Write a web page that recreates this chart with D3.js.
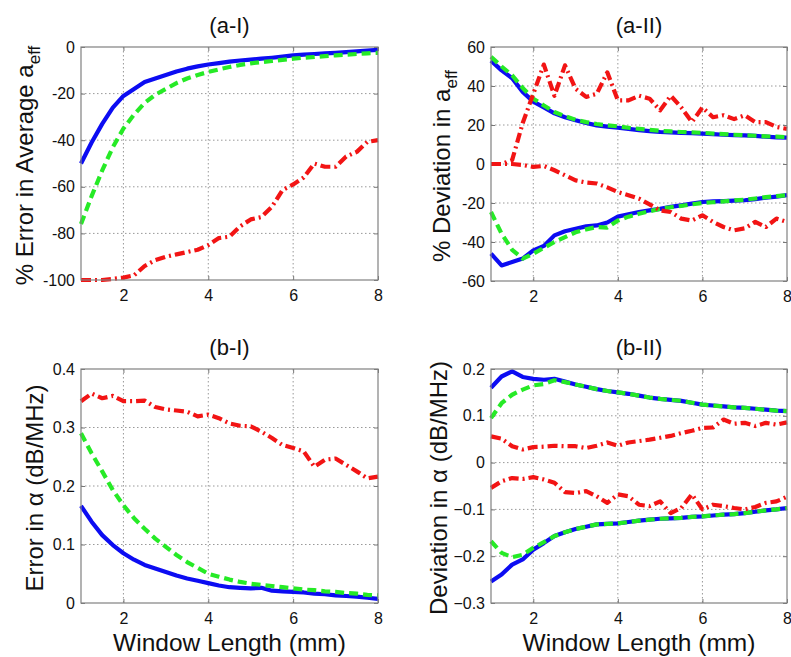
<!DOCTYPE html>
<html>
<head>
<meta charset="utf-8">
<script src="https://cdn.jsdelivr.net/npm/d3@7"></script>
<style>
  body { margin: 0; background: #fff; }
  svg text { font-family: "Liberation Sans", Arial, Helvetica, sans-serif; fill: #111; }
</style>
</head>
<body>
<svg id="chart" width="791" height="657"></svg>
<script>
// window length (mm)
const windowLen = [1, 1.25, 1.5, 1.75, 2, 2.25, 2.5, 2.75, 3, 3.25, 3.5, 3.75, 4, 4.25, 4.5, 4.75,
                   5, 5.25, 5.5, 5.75, 6, 6.25, 6.5, 6.75, 7, 7.25, 7.5, 7.75, 8];
const xTicks = [2, 4, 6, 8];

// (a-I) % error in average a_eff
const aIBlue = [-50,-41,-33,-26,-21,-18,-15,-13.5,-12,-10.5,-9.3,-8.3,-7.5,-6.9,-6.3,-5.8,-5.4,-5,-4.6,-4.1,-3.6,-3.3,-3,-2.7,-2.5,-2.2,-1.9,-1.5,-1.2];
const aIGreen = [-76,-64,-53,-43,-35,-29,-24,-20.5,-18,-15.5,-13.5,-12,-10.7,-9.6,-8.6,-7.7,-7,-6.5,-6,-5.5,-5,-4.6,-4.3,-3.9,-3.6,-3.3,-3,-2.7,-2.5];
const aIRed = [-100,-100,-100,-99.5,-99,-98,-94,-91.5,-90,-89,-88,-87,-85,-82,-81.4,-77,-74,-73,-68.6,-61.4,-59,-56,-50,-51.4,-51.4,-47,-45,-40.7,-40];
const aITicks = [-100, -80, -60, -40, -20, 0];

// (a-II) % deviation in a_eff (upper / lower)
const aIIBlueUp = [53,48,44,37,32,29,26,24,22.4,21,19.8,19.2,18.6,18,17.4,16.9,16.4,16.2,16,15.8,15.6,15.3,15,14.8,14.7,14.4,14,13.7,13.5];
const aIIGreenUp = [55,50,45.5,39,33.5,30,26.7,24.5,22.7,21.5,20.5,19.8,19.3,18.6,18,17.5,17,16.7,16.4,16.2,16,15.6,15.3,15,14.7,14.5,14.2,14,13.8];
const aIIRedUp = [0,0,2,21,36,51,35,50.6,38.6,34.4,36,47,32.6,32.6,35,33.5,27.5,35,29,21.5,29,24,25,23,25,21.5,21.5,19,18];
const aIIRedLow = [0,0,0,-0.5,-1.5,-1,-3.2,-5.8,-8.4,-9.5,-10,-12,-14.4,-16,-17.8,-20.7,-23.8,-24.6,-28,-29,-26.3,-29.7,-32.3,-34,-33,-29.7,-32.3,-28,-29.7];
const aIIBlueLow = [-46,-52,-50.3,-48.5,-44.3,-42,-36.6,-34.5,-33.2,-32,-31.5,-30,-27,-25.8,-24.6,-23.8,-23,-22,-21.2,-20.3,-19.5,-19.2,-19,-18.8,-18.6,-18,-17.3,-16.7,-16];
const aIIGreenLow = [-24.6,-35.7,-44,-48.5,-46,-43,-40,-37.5,-35,-33.5,-32.3,-32.6,-29,-27,-25.5,-24.2,-23,-22.2,-21.5,-20.7,-20,-19.6,-19.2,-18.7,-18.3,-17.7,-17,-16.5,-16];
const aIITicks = [-60, -40, -20, 0, 20, 40, 60];

// (b-I) error in alpha (dB/MHz)
const bIRed = [0.345,0.358,0.350,0.354,0.345,0.345,0.346,0.335,0.331,0.329,0.327,0.319,0.322,0.316,0.307,0.303,0.302,0.293,0.282,0.270,0.265,0.259,0.233,0.245,0.247,0.236,0.225,0.213,0.216];
const bIGreen = [0.29,0.256,0.225,0.193,0.167,0.145,0.127,0.11,0.096,0.082,0.070,0.060,0.050,0.045,0.040,0.036,0.033,0.031,0.029,0.027,0.025,0.023,0.022,0.020,0.019,0.017,0.016,0.014,0.013];
const bIBlue = [0.166,0.139,0.116,0.099,0.085,0.074,0.065,0.059,0.053,0.047,0.042,0.038,0.034,0.030,0.027,0.026,0.025,0.026,0.021,0.020,0.019,0.018,0.016,0.015,0.013,0.012,0.011,0.009,0.007];
const bITicks = [0, 0.1, 0.2, 0.3, 0.4];

// (b-II) deviation in alpha (dB/MHz)
const bIIBlueUp = [0.160,0.184,0.195,0.183,0.179,0.177,0.179,0.173,0.167,0.162,0.157,0.153,0.150,0.147,0.143,0.139,0.136,0.134,0.132,0.128,0.124,0.122,0.120,0.118,0.117,0.115,0.113,0.111,0.110];
const bIIGreenUp = [0.095,0.127,0.145,0.156,0.165,0.168,0.176,0.172,0.167,0.162,0.157,0.153,0.150,0.147,0.143,0.139,0.136,0.134,0.132,0.128,0.124,0.122,0.120,0.118,0.117,0.115,0.113,0.111,0.110];
const bIIRedUp = [0.056,0.051,0.035,0.028,0.033,0.034,0.036,0.035,0.035,0.031,0.036,0.043,0.036,0.043,0.046,0.049,0.053,0.057,0.063,0.068,0.074,0.075,0.092,0.083,0.085,0.078,0.085,0.081,0.086];
const bIIRedLow = [-0.054,-0.040,-0.033,-0.035,-0.031,-0.036,-0.043,-0.063,-0.065,-0.061,-0.072,-0.086,-0.068,-0.072,-0.090,-0.093,-0.083,-0.108,-0.097,-0.068,-0.100,-0.090,-0.093,-0.097,-0.100,-0.095,-0.086,-0.083,-0.073];
const bIIBlueLow = [-0.254,-0.239,-0.218,-0.207,-0.186,-0.172,-0.157,-0.149,-0.142,-0.137,-0.132,-0.131,-0.130,-0.127,-0.124,-0.122,-0.120,-0.119,-0.118,-0.116,-0.115,-0.113,-0.111,-0.110,-0.108,-0.105,-0.102,-0.100,-0.097];
const bIIGreenLow = [-0.168,-0.193,-0.202,-0.197,-0.182,-0.170,-0.157,-0.149,-0.142,-0.137,-0.132,-0.131,-0.130,-0.127,-0.124,-0.122,-0.120,-0.119,-0.118,-0.116,-0.115,-0.113,-0.111,-0.110,-0.108,-0.105,-0.102,-0.100,-0.097];
const bIITicks = [-0.3, -0.2, -0.1, 0, 0.1, 0.2];

const BLUE = '#0c0cf2', GREEN = '#26ea26', RED = '#f21414';

const svg = d3.select('#chart');

function panel(opts)
{
    const g = svg.append('g').attr('transform', `translate(${opts.left}, ${opts.top})`);
    const w = opts.width, h = opts.height;

    const x = d3.scaleLinear().domain([1, 8]).range([0, w]);
    const y = d3.scaleLinear().domain(opts.yDomain).range([h, 0]);

    // dotted grid
    g.append('g')
        .selectAll('line')
        .data(xTicks.filter(t => t < 8))
        .enter()
        .append('line')
        .attr('x1', d => x(d)).attr('x2', d => x(d))
        .attr('y1', 0).attr('y2', h)
        .attr('stroke', '#999').attr('stroke-dasharray', '1.5,2.5');
    g.append('g')
        .selectAll('line')
        .data(opts.yTicks.filter(t => t > opts.yDomain[0] && t < opts.yDomain[1]))
        .enter()
        .append('line')
        .attr('x1', 0).attr('x2', w)
        .attr('y1', d => y(d)).attr('y2', d => y(d))
        .attr('stroke', '#999').attr('stroke-dasharray', '1.5,2.5');

    // axes, ticks pointing inward
    const fmt = opts.fmt || (d => d);
    const xAxis = g.append('g')
        .attr('transform', `translate(0, ${h})`)
        .call(d3.axisBottom(x).tickValues(xTicks).tickSize(-4).tickPadding(10).tickFormat(d3.format('d')));
    const yAxis = g.append('g')
        .call(d3.axisLeft(y).tickValues(opts.yTicks).tickSize(-4).tickPadding(6).tickFormat(fmt));
    [xAxis, yAxis].forEach(a => {
        a.select('.domain').remove();
        a.selectAll('line').attr('stroke', '#777');
        a.selectAll('text').style('font-size', '16px').attr('fill', '#111');
    });
    g.append('g').attr('transform', `translate(${w},0)`)
        .call(d3.axisRight(y).tickValues(opts.yTicks).tickSize(-4).tickFormat(''))
        .call(a => { a.select('.domain').remove(); a.selectAll('line').attr('stroke', '#777'); });
    g.append('g')
        .call(d3.axisTop(x).tickValues(xTicks).tickSize(-4).tickFormat(''))
        .call(a => { a.select('.domain').remove(); a.selectAll('line').attr('stroke', '#777'); });

    const line = d3.line()
        .x((d, i) => x(windowLen[i]))
        .y(d => y(d));

    opts.series.forEach(s => {
        g.append('path')
            .datum(s.values)
            .attr('fill', 'none')
            .attr('stroke', s.color)
            .attr('stroke-width', 4.2)
            .attr('stroke-dasharray', s.dash || null)
            .attr('stroke-linejoin', 'round')
            .attr('d', line);
    });

    // frame
    g.append('rect')
        .attr('width', w).attr('height', h)
        .attr('fill', 'none').attr('stroke', '#808080').attr('stroke-width', 1.2);

    // title
    svg.append('text')
        .attr('x', opts.left + w / 2)
        .attr('y', opts.top - 14)
        .attr('text-anchor', 'middle')
        .style('font-size', '22px')
        .text(opts.title);

    // y label
    const yl = svg.append('text')
        .attr('transform', `translate(${opts.yLabelX}, ${opts.top + h / 2 + 2}) rotate(-90)`)
        .attr('text-anchor', 'middle')
        .style('font-size', '24px');
    yl.append('tspan').text(opts.yLabel);
    if (opts.yLabelSub) {
        yl.append('tspan').attr('dy', 7).style('font-size', '17px').text(opts.yLabelSub);
    }

    if (opts.xLabel) {
        svg.append('text')
            .attr('x', opts.left + w / 2)
            .attr('y', opts.top + h + 48)
            .attr('text-anchor', 'middle')
            .style('font-size', '24.5px')
            .text(opts.xLabel);
    }
}

panel({
    left: 81, top: 47, width: 297, height: 233,
    yDomain: [-100, 0], yTicks: aITicks,
    title: '(a-I)', yLabel: '% Error in Average a', yLabelSub: 'eff', yLabelX: 33,
    series: [
        { values: aIBlue, color: BLUE },
        { values: aIGreen, color: GREEN, dash: '9,5' },
        { values: aIRed, color: RED, dash: '10,4,2,4' }
    ]
});

panel({
    left: 491, top: 47, width: 296, height: 234,
    yDomain: [-60, 60], yTicks: aIITicks,
    title: '(a-II)', yLabel: '% Deviation in a', yLabelSub: 'eff', yLabelX: 450,
    series: [
        { values: aIIBlueUp, color: BLUE },
        { values: aIIBlueLow, color: BLUE },
        { values: aIIGreenUp, color: GREEN, dash: '9,5' },
        { values: aIIGreenLow, color: GREEN, dash: '9,5' },
        { values: aIIRedUp, color: RED, dash: '10,4,2,4' },
        { values: aIIRedLow, color: RED, dash: '10,4,2,4' }
    ]
});

panel({
    left: 81, top: 369, width: 297, height: 234,
    yDomain: [0, 0.4], yTicks: bITicks, fmt: d => d3.format('')(d),
    title: '(b-I)', yLabel: 'Error in \u03B1 (dB/MHz)', yLabelX: 43,
    xLabel: 'Window Length (mm)',
    series: [
        { values: bIBlue, color: BLUE },
        { values: bIGreen, color: GREEN, dash: '9,5' },
        { values: bIRed, color: RED, dash: '10,4,2,4' }
    ]
});

panel({
    left: 491, top: 369, width: 296, height: 234,
    yDomain: [-0.3, 0.2], yTicks: bIITicks, fmt: d => d3.format('')(d),
    title: '(b-II)', yLabel: 'Deviation in \u03B1 (dB/MHz)', yLabelX: 447,
    xLabel: 'Window Length (mm)',
    series: [
        { values: bIIBlueUp, color: BLUE },
        { values: bIIBlueLow, color: BLUE },
        { values: bIIGreenUp, color: GREEN, dash: '9,5' },
        { values: bIIGreenLow, color: GREEN, dash: '9,5' },
        { values: bIIRedUp, color: RED, dash: '10,4,2,4' },
        { values: bIIRedLow, color: RED, dash: '10,4,2,4' }
    ]
});
</script>
</body>
</html>
